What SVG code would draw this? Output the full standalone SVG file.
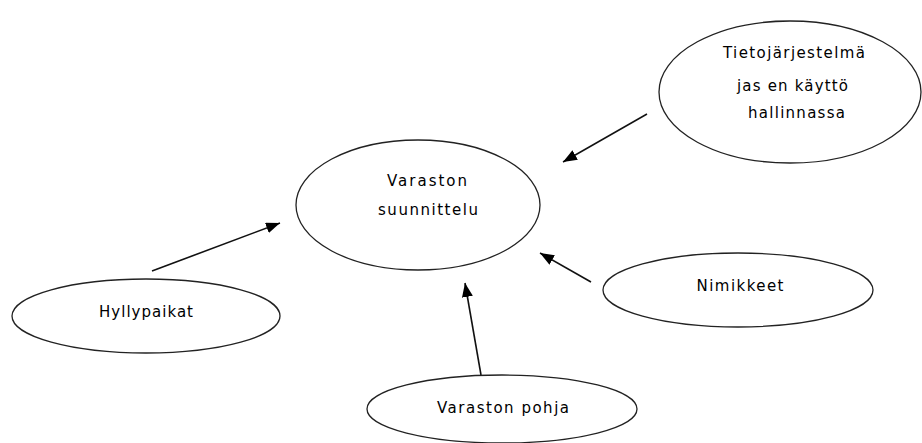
<svg xmlns="http://www.w3.org/2000/svg" width="922" height="443" viewBox="0 0 922 443">
<style>
.node ellipse{fill:#fff;stroke:#222;stroke-width:1.3}
.node text{font-family:"DejaVu Sans","Liberation Sans",sans-serif;font-size:15px;fill:#000;text-anchor:middle}
.conn line{stroke:#111;stroke-width:1.6}
</style>
<defs>
<marker id="arr" markerUnits="userSpaceOnUse" markerWidth="16" markerHeight="12" refX="14" refY="5.5" orient="auto">
<path d="M0,0 L14,5.5 L0,11 z" fill="#000"/>
</marker>
</defs>
<rect width="922" height="443" fill="#fff"/>
<g id="n-suunnittelu" class="node">
<ellipse cx="418" cy="205" rx="122" ry="65"/>
<text x="427" y="186" textLength="80" lengthAdjust="spacing">Varaston</text>
<text x="428" y="215" textLength="100" lengthAdjust="spacing">suunnittelu</text>
</g>
<g id="n-tietojarjestelma" class="node">
<ellipse cx="790" cy="92" rx="131" ry="71"/>
<text x="794" y="58" textLength="142" lengthAdjust="spacing">Tietojärjestelmä</text>
<text x="792.5" y="91" textLength="111" lengthAdjust="spacing">jas en käyttö</text>
<text x="796.5" y="118" textLength="97" lengthAdjust="spacing">hallinnassa</text>
</g>
<g id="n-hyllypaikat" class="node">
<ellipse cx="146" cy="316" rx="134" ry="37"/>
<text x="146" y="317" textLength="94" lengthAdjust="spacing">Hyllypaikat</text>
</g>
<g id="n-nimikkeet" class="node">
<ellipse cx="738" cy="290" rx="135" ry="37"/>
<text x="740" y="291" textLength="87" lengthAdjust="spacing">Nimikkeet</text>
</g>
<g id="n-pohja" class="node">
<ellipse cx="502" cy="409" rx="135" ry="34"/>
<text x="503" y="413" textLength="132" lengthAdjust="spacing">Varaston pohja</text>
</g>
<g id="connectors" class="conn">
<line x1="152" y1="271" x2="280" y2="223" marker-end="url(#arr)"/>
<line x1="481" y1="375" x2="465" y2="283" marker-end="url(#arr)"/>
<line x1="591" y1="282" x2="540" y2="253" marker-end="url(#arr)"/>
<line x1="647" y1="114" x2="563" y2="162" marker-end="url(#arr)"/>
</g>
</svg>
